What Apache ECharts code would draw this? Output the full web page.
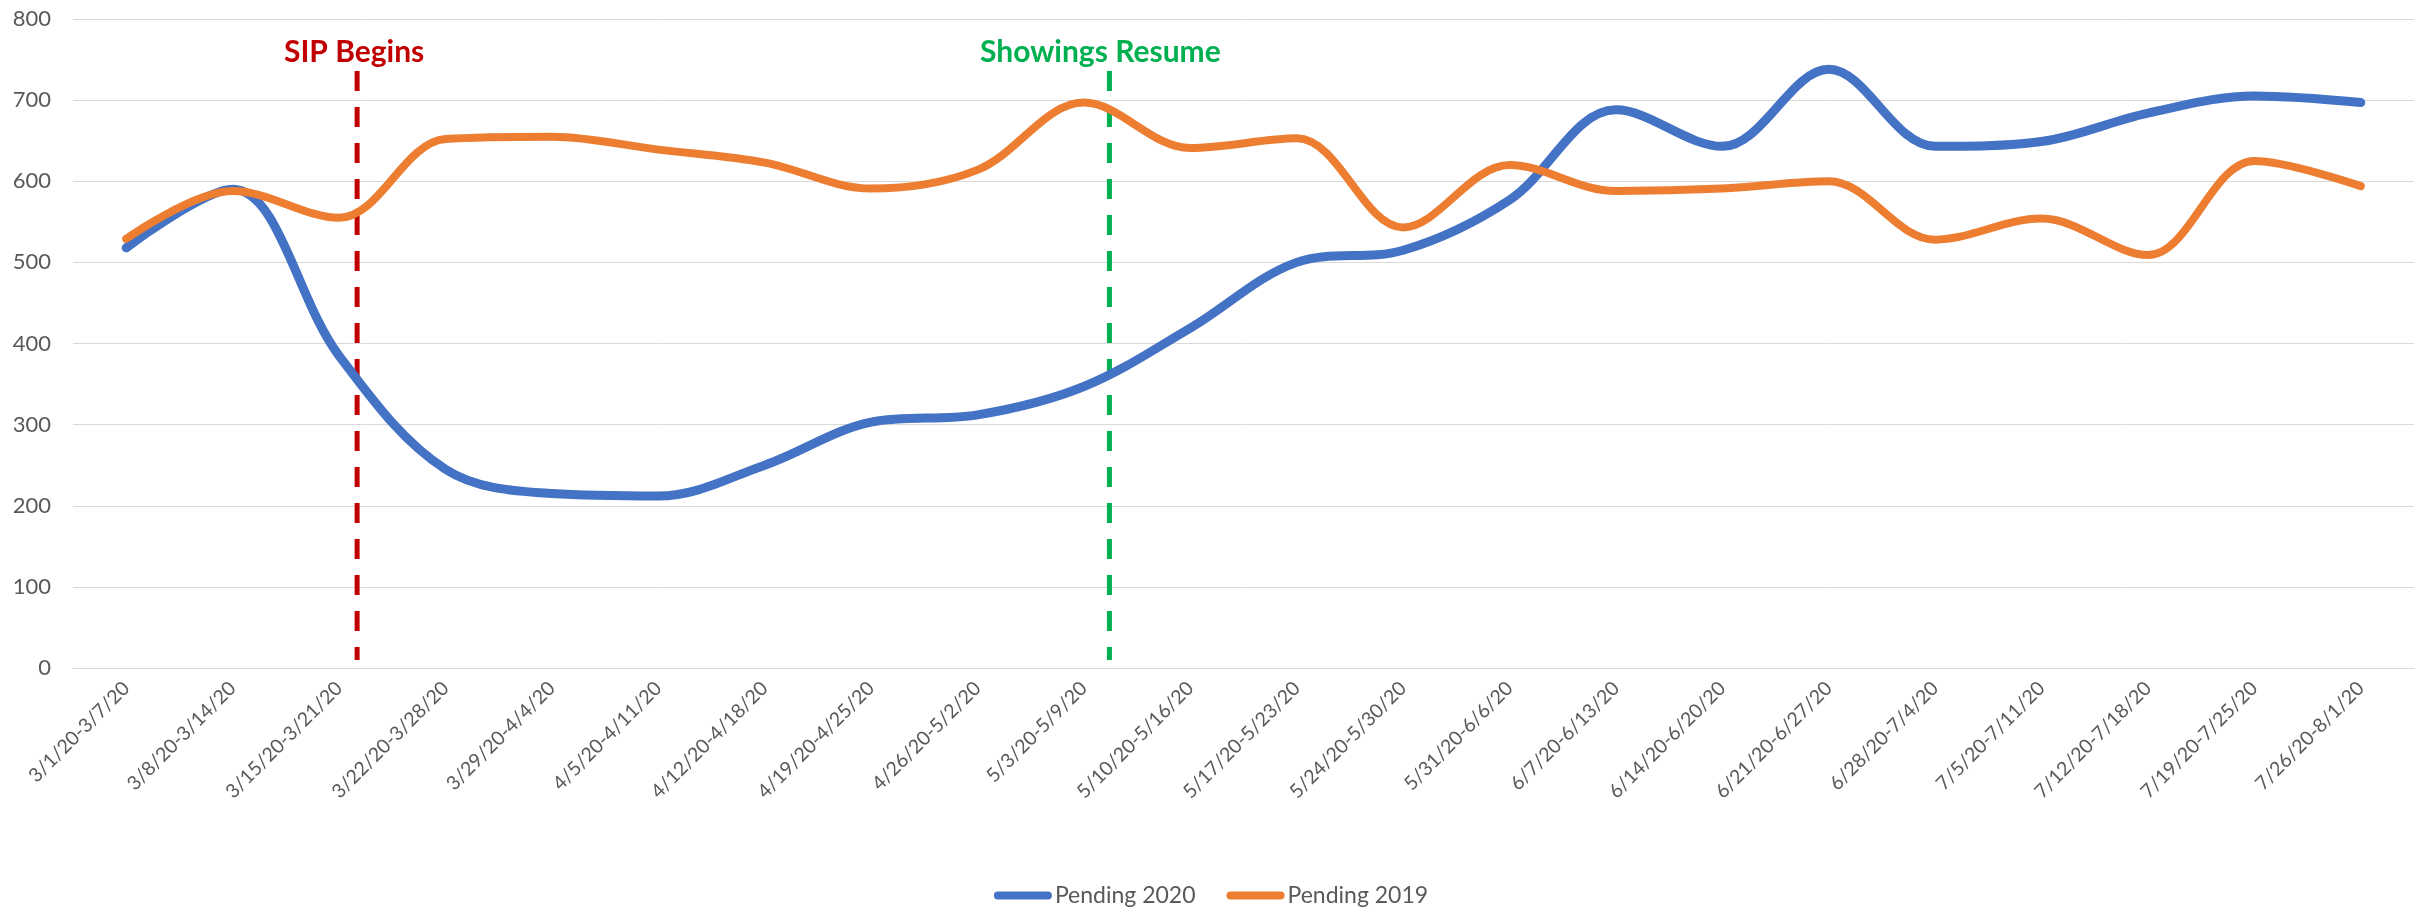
<!DOCTYPE html>
<html>
<head>
<meta charset="utf-8">
<script src="https://cdn.jsdelivr.net/npm/echarts@6/dist/echarts.min.js"></script>
<style>
html,body{margin:0;padding:0;background:#fff;}
#chart{width:2422px;height:913px;}
</style>
</head>
<body>
<div id="chart"></div>
<script>
const categories = ["3/1/20-3/7/20","3/8/20-3/14/20","3/15/20-3/21/20","3/22/20-3/28/20","3/29/20-4/4/20","4/5/20-4/11/20","4/12/20-4/18/20","4/19/20-4/25/20","4/26/20-5/2/20","5/3/20-5/9/20","5/10/20-5/16/20","5/17/20-5/23/20","5/24/20-5/30/20","5/31/20-6/6/20","6/7/20-6/13/20","6/14/20-6/20/20","6/21/20-6/27/20","6/28/20-7/4/20","7/5/20-7/11/20","7/12/20-7/18/20","7/19/20-7/25/20","7/26/20-8/1/20"];
const pending2020 = [518, 590, 385, 245, 215, 212, 250, 303, 312, 347, 419, 500, 515, 577, 688, 643, 738, 643, 649, 684, 705, 697];
const pending2019 = [529, 588, 555, 652, 655, 639, 623, 591, 614, 697, 641, 653, 543, 620, 588, 591, 600, 528, 554, 509, 625, 594];
const yTicks = [0, 100, 200, 300, 400, 500, 600, 700, 800];
// annotation lines: position in category units, top and bottom values
const sipLine = { name: "SIP Begins", x: 2.17, top: 736, bottom: 10 };
const showLine = { name: "Showings Resume", x: 9.24, top: 736, bottom: 10 };

const chart = echarts.init(document.getElementById('chart'), null, { renderer: 'canvas' });
const FONT = 'Lato';
const GRAY = '#595959';

function annotation(a, color, offX) {
  return {
    name: a.name,
    type: 'line',
    xAxisIndex: 1,
    yAxisIndex: 0,
    data: [
      { value: [a.x, a.top], label: { show: true, position: 'top', distance: 4, offset: [offX, 0], formatter: a.name,
        color: color, fontFamily: FONT, fontWeight: 'bold', fontSize: 30 } },
      { value: [a.x, a.bottom] }
    ],
    showSymbol: true,
    symbol: 'circle',
    symbolSize: 0.01,
    itemStyle: { color: color },
    lineStyle: { color: color, width: 5, type: [20, 16], cap: 'butt' },
    silent: true,
    z: 1
  };
}

const legendIcon = 'path://M4,0 H54 A4,4 0 0 1 54,8 H4 A4,4 0 0 1 4,0 Z';

chart.setOption({
  animation: false,
  backgroundColor: '#ffffff',
  grid: { left: 73, right: 8, top: 19, bottom: 245, containLabel: false },
  legend: {
    data: [{ name: 'Pending 2020', icon: legendIcon }, { name: 'Pending 2019', icon: legendIcon }],
    top: 879,
    left: 'center',
    itemWidth: 58,
    itemHeight: 8,
    itemGap: 31,
    textStyle: { color: GRAY, fontFamily: FONT, fontSize: 23, padding: [0, 0, 0, -2] }
  },
  xAxis: [
    {
      type: 'category',
      data: categories,
      boundaryGap: true,
      axisLine: { show: true, lineStyle: { color: '#d9d9d9', width: 1 } },
      axisTick: { show: false },
      axisLabel: { interval: 0, rotate: 45, color: GRAY, fontFamily: FONT, fontSize: 19.5, margin: 17 }
    },
    {
      type: 'value',
      min: -0.5,
      max: 21.5,
      show: false
    }
  ],
  yAxis: {
    type: 'value',
    min: yTicks[0],
    max: yTicks[yTicks.length - 1],
    interval: 100,
    axisLine: { show: false },
    axisTick: { show: false },
    axisLabel: { color: GRAY, fontFamily: FONT, fontSize: 22, margin: 22 },
    splitLine: { lineStyle: { color: '#d9d9d9', width: 1 } }
  },
  series: [
    annotation(sipLine, '#C00000', -3),
    annotation(showLine, '#00B050', -9),
    {
      name: 'Pending 2020',
      type: 'line',
      data: pending2020,
      smooth: 0.35,
      showSymbol: false,
      symbol: 'none',
      itemStyle: { color: '#4472C4' },
      lineStyle: { color: '#4472C4', width: 9, cap: 'round', join: 'round' },
      z: 3
    },
    {
      name: 'Pending 2019',
      type: 'line',
      data: pending2019,
      smooth: 0.35,
      showSymbol: false,
      symbol: 'none',
      itemStyle: { color: '#ED7D31' },
      lineStyle: { color: '#ED7D31', width: 8, cap: 'round', join: 'round' },
      z: 4
    }
  ]
});
</script>
</body>
</html>
